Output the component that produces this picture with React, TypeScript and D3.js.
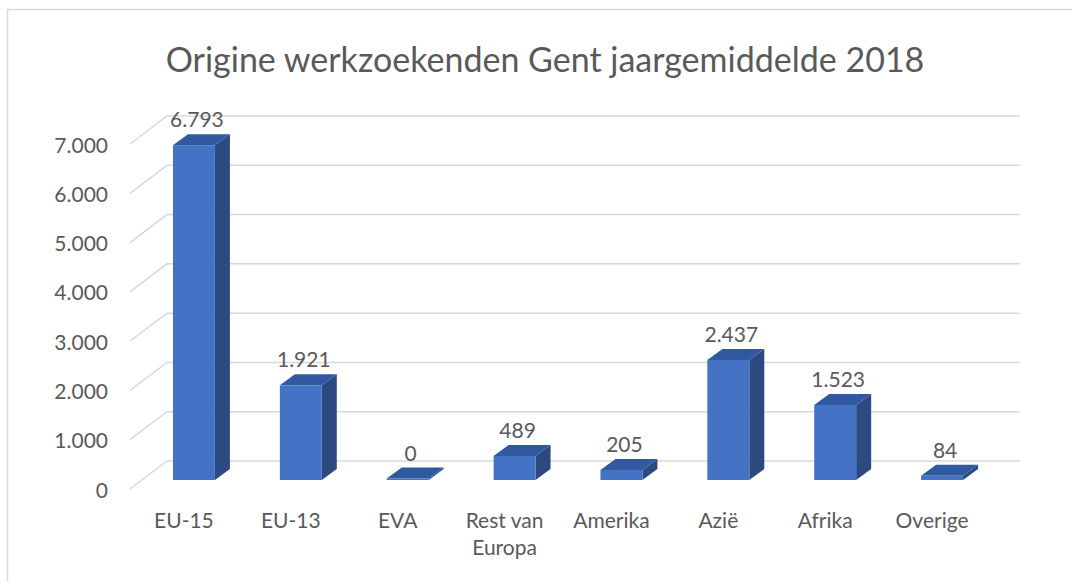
import * as d3 from "d3";

const categories = ["EU-15", "EU-13", "EVA", "Rest van Europa", "Amerika", "Azië", "Afrika", "Overige"];
const categoryLines = [["EU-15"], ["EU-13"], ["EVA"], ["Rest van", "Europa"], ["Amerika"], ["Azië"], ["Afrika"], ["Overige"]];
const values = [6793, 1921, 0, 489, 205, 2437, 1523, 84];
const valueLabels = ["6.793", "1.921", "0", "489", "205", "2.437", "1.523", "84"];
const yTicks = [0, 1000, 2000, 3000, 4000, 5000, 6000, 7000];
const yTickLabels = ["0", "1.000", "2.000", "3.000", "4.000", "5.000", "6.000", "7.000"];

const title = "Origine werkzoekenden Gent jaargemiddelde 2018";
const font = "Lato, 'Open Sans', sans-serif";
const textColor = "#595959";
const gridColor = "#d9d9d9";

// 3d offsets
const floorDx = 37;
const floorDy = 28;
const barDx = 15;
const barDy = 11;

export default function App() {
  const width = 1072;
  const height = 581;

  // bar front plane
  const x = d3.scaleBand<string>()
    .domain(categories)
    .range([140.5, 995.5])
    .paddingInner(0.6075)
    .paddingOuter(0.30375);
  const y = d3.scaleLinear().domain([0, 7000]).range([480, 135]);
  // back wall
  const yWall = d3.scaleLinear().domain([0, 7000]).range([461, 116]);
  const wallLeft = 167;
  const wallRight = 1020;

  const bw = x.bandwidth();

  return (
    <svg width={width} height={height} style={{ position: "absolute", left: 0, top: 0, background: "#fff" }}>
      <rect x={7.5} y={9.5} width={1100} height={600} fill="#fff" stroke={gridColor} strokeWidth={1.5} />
      <text x={545} y={72} textAnchor="middle" fontFamily={font} fontSize={34} fill={textColor}>{title}</text>

      <g stroke={gridColor} strokeWidth={1.5} fill="none">
        {yTicks.map(t => (
          <path key={t} d={`M${wallLeft - floorDx},${yWall(t) + floorDy}L${wallLeft},${yWall(t)}H${wallRight}`} />
        ))}
      </g>

      <g fontFamily={font} fontSize={21} fill={textColor} textAnchor="end">
        {yTicks.map((t, i) => (
          <text key={t} x={108} y={yWall(t) + floorDy} dominantBaseline="central">{yTickLabels[i]}</text>
        ))}
      </g>

      {categories.map((c, i) => {
        const x0 = x(c)!;
        const x1 = x0 + bw;
        const bottom = y(0);
        const top = Math.min(y(values[i]), bottom - 1.5);
        return (
          <g key={c}>
            <path d={`M${x1},${top}L${x1 + barDx},${top - barDy}V${bottom - barDy}L${x1},${bottom}Z`} fill="#2c4a7f" />
            <path d={`M${x0},${top}L${x0 + barDx},${top - barDy}H${x1 + barDx}L${x1},${top}Z`} fill="#3159a0" />
            <rect x={x0} y={top} width={bw} height={bottom - top} fill="#4472c4" />
          </g>
        );
      })}

      <g fontFamily={font} fontSize={21} fill={textColor} textAnchor="middle">
        {categories.map((c, i) => (
          <text key={c} x={x(c)! + bw / 2 + 3} y={Math.min(y(values[i]), y(0) - 1.5) - 18}>{valueLabels[i]}</text>
        ))}
      </g>

      <g fontFamily={font} fontSize={21} fill={textColor} textAnchor="middle">
        {categories.map((c, i) => (
          <text key={c} x={x(c)! + bw / 2 - 10} y={528}>
            {categoryLines[i].map((line, j) => (
              <tspan key={j} x={x(c)! + bw / 2 - 10} dy={j === 0 ? 0 : 27}>{line}</tspan>
            ))}
          </text>
        ))}
      </g>
    </svg>
  );
}
